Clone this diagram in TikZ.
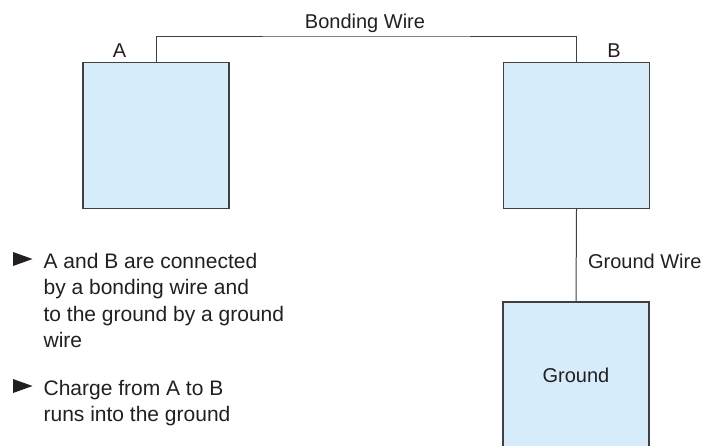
\documentclass[tikz,border=0pt]{standalone}
\usepackage{fontspec}
\setmainfont{Liberation Sans}
\usepackage{tikz}
\usetikzlibrary{positioning}

\definecolor{chipfill}{HTML}{D6ECFA}
\definecolor{chipline}{HTML}{404040}
\definecolor{inkdark}{HTML}{231F20}

\begin{document}
\begin{tikzpicture}[x=1pt, y=-1pt, line width=1.2pt, draw=chipline,
  every node/.style={text=inkdark, font=\fontsize{20}{26.5}\selectfont, inner sep=0pt},
  chip/.style={draw=chipline, fill=chipfill, minimum width=146pt, minimum height=146pt},
  note/.style={anchor=north west, align=left, font=\fontsize{21}{26.3}\selectfont},
  bullet/.style={fill=inkdark, draw=none}]
\clip[use as bounding box] (0,0) rectangle (708,445);
\node[chip] (A) at (156,135.5) {};
\node[chip] (B) at (576.5,135.5) {};
\node[chip] (G) at (576,375) {Ground};
\node[anchor=base] (labA) at (119.5,57) {A};
\node[anchor=base] (labB) at (614,57) {B};
\coordinate (wiretop) at (366,36);
\draw[line width=1pt] (A.north) |- (wiretop) -| (B.north);
\node[anchor=base] (bondlab) at (365,28) {Bonding Wire};
\draw[line width=1pt] (B.south) -- (G.north);
\node[anchor=base west] (gndlab) at (587.5,268) {Ground Wire};
% bullet points
\fill[bullet] (13,252) -- (32.5,259) -- (13,266) -- cycle;
\node[note] (note1) at (43,252.7) {A and B are connected\\by a bonding wire and\\to the ground by a ground\\wire};
\fill[bullet] (13,379) -- (32.5,386) -- (13,393) -- cycle;
\node[note] (note2) at (43,379.6) {Charge from A to B\\runs into the ground};
\end{tikzpicture}
\end{document}
